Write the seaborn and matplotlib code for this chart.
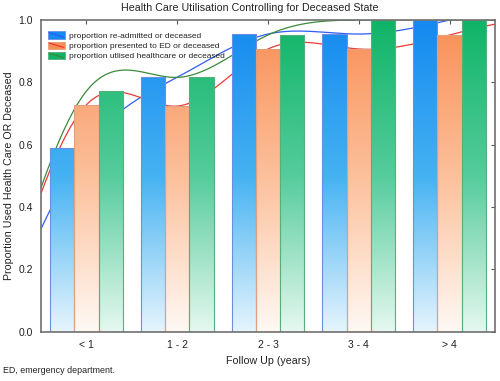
import numpy as np
import pandas as pd
import seaborn as sns
import matplotlib.pyplot as plt
from matplotlib.colors import LinearSegmentedColormap, to_hex
from matplotlib.patches import Patch, Rectangle
from matplotlib.lines import Line2D
from matplotlib.legend_handler import HandlerBase

sns.set_style("white")
plt.rcParams['font.family'] = ['Liberation Sans', 'DejaVu Sans']

# data
periods = ["< 1", "1 - 2", "2 - 3", "3 - 4", "> 4"]
series = ["proportion re-admitted or deceased",
          "proportion presented to ED or deceased",
          "proportion utlised healthcare or deceased"]
readmitted = [0.59, 0.816, 0.955, 0.955, 1.0]
presented_ed = [0.728, 0.724, 0.907, 0.907, 0.952]
utilised = [0.772, 0.816, 0.952, 1.0, 1.0]
start_value = 0.0  # proportion at start of follow up (curve anchor)

values = [readmitted, presented_ed, utilised]
bar_top = ["#1489f0", "#f98e55", "#0fb468"]
bar_mid = ["#45b2f2", "#fcc09b", "#55cc9c"]
bar_bottom = ["#e6f5fd", "#fff9f4", "#e6f8f0"]
bar_edge = ["#6a8fe0", "#e0a07e", "#55b07a"]
line_colors = ["#2f5cf5", "#ec3a35", "#3a8a3a"]

df = pd.DataFrame({
    "period": np.tile(periods, 3),
    "series": np.repeat(series, len(periods)),
    "value": np.concatenate(values),
})


def natural_spline(xk, yk, xs):
    n = len(xk)
    h = np.diff(xk)
    A = np.zeros((n, n))
    r = np.zeros(n)
    A[0, 0] = A[-1, -1] = 1
    for i in range(1, n - 1):
        A[i, i - 1] = h[i - 1]
        A[i, i] = 2 * (h[i - 1] + h[i])
        A[i, i + 1] = h[i]
        r[i] = 3 * ((yk[i + 1] - yk[i]) / h[i] - (yk[i] - yk[i - 1]) / h[i - 1])
    c = np.linalg.solve(A, r)
    b = (yk[1:] - yk[:-1]) / h - h * (2 * c[:-1] + c[1:]) / 3
    d = (c[1:] - c[:-1]) / (3 * h)
    idx = np.clip(np.searchsorted(xk, xs) - 1, 0, n - 2)
    dx = xs - xk[idx]
    return yk[idx] + b[idx] * dx + c[idx] * dx ** 2 + d[idx] * dx ** 3


class BarLineHandler(HandlerBase):
    def __init__(self, line_color):
        super().__init__()
        self.line_color = line_color

    def create_artists(self, legend, orig_handle, xdescent, ydescent,
                       width, height, fontsize, trans):
        rect = Rectangle((-xdescent, -ydescent), width, height,
                         facecolor=orig_handle.get_facecolor(),
                         edgecolor=orig_handle.get_edgecolor(), lw=0.6,
                         transform=trans)
        ln = Line2D([-xdescent + 1, -xdescent + width - 1],
                    [-ydescent + height - 1, -ydescent + 1],
                    color=self.line_color, lw=0.9, transform=trans)
        return [rect, ln]


fig = plt.figure(figsize=(5.0, 3.81), dpi=100)
ax = fig.add_axes([0.082, 0.129, 0.908, 0.8185])

sns.barplot(data=df, x="period", y="value", hue="series", hue_order=series,
            palette=bar_top, width=0.8, ax=ax, legend=False, saturation=1)

# gradient fill for each bar
grad = np.linspace(0, 1, 256).reshape(-1, 1)
top_hex = [to_hex(c) for c in bar_top]
cmaps = [LinearSegmentedColormap.from_list("g%d" % i, [bar_bottom[i], bar_mid[i], bar_top[i]])
         for i in range(3)]
for p in list(ax.patches):
    k = top_hex.index(to_hex(p.get_facecolor()))
    x0, w = p.get_x(), p.get_width()
    im = ax.imshow(grad, extent=[x0, x0 + w, 0, 1], origin="lower",
                   cmap=cmaps[k], aspect="auto", zorder=1)
    im.set_clip_path(p)
    p.set_facecolor("none")
    p.set_edgecolor(bar_edge[k])
    p.set_linewidth(0.8)
    p.set_zorder(1.5)

# smooth curves behind the bars
xk = np.arange(-1, len(periods), dtype=float)
xs = np.linspace(-0.5, len(periods) - 0.5, 400)
for vals, col in zip(values, line_colors):
    yk = np.array([start_value] + list(vals))
    ax.plot(xs, natural_spline(xk, yk, xs), color=col, lw=0.9, zorder=0.5)

ax.set_xlim(-0.5, len(periods) - 0.5)
ax.set_ylim(0, 1)
ax.set_yticks(np.arange(0, 1.01, 0.2))
ax.set_yticklabels(["%.1f" % v for v in np.arange(0, 1.01, 0.2)])
ax.tick_params(axis="both", direction="in", length=3, width=0.8,
               top=True, right=True, labelsize=7.5, colors="#555555",
               labelcolor="#222222", pad=6)
for s in ax.spines.values():
    s.set_color("#707070")
    s.set_linewidth(1.2)

ax.set_xlabel("Follow Up (years)", fontsize=7.7, color="#222222", labelpad=4)
ax.set_ylabel("Proportion Used Health Care OR Deceased", fontsize=7.7,
              color="#222222", labelpad=3)
fig.text(0.5, 0.978, "Health Care Utilisation Controlling for Deceased State",
         fontsize=7.7, color="#222222", ha="center", va="center")

handles = [Patch(facecolor=bar_top[i], edgecolor=bar_edge[i]) for i in range(3)]
hmap = {h: BarLineHandler(line_colors[i]) for i, h in enumerate(handles)}
leg = ax.legend(handles, series, handler_map=hmap, loc="upper left",
                bbox_to_anchor=(0.0, 0.985), frameon=False, fontsize=6.0,
                handlelength=2.1, handleheight=0.95, labelspacing=0.22,
                handletextpad=0.5, borderaxespad=0.4)
for t in leg.get_texts():
    t.set_color("#222222")

fig.text(0.006, 0.02, "ED, emergency department.", fontsize=6.4, color="#222222")

fig.savefig("out.png", dpi=100)
